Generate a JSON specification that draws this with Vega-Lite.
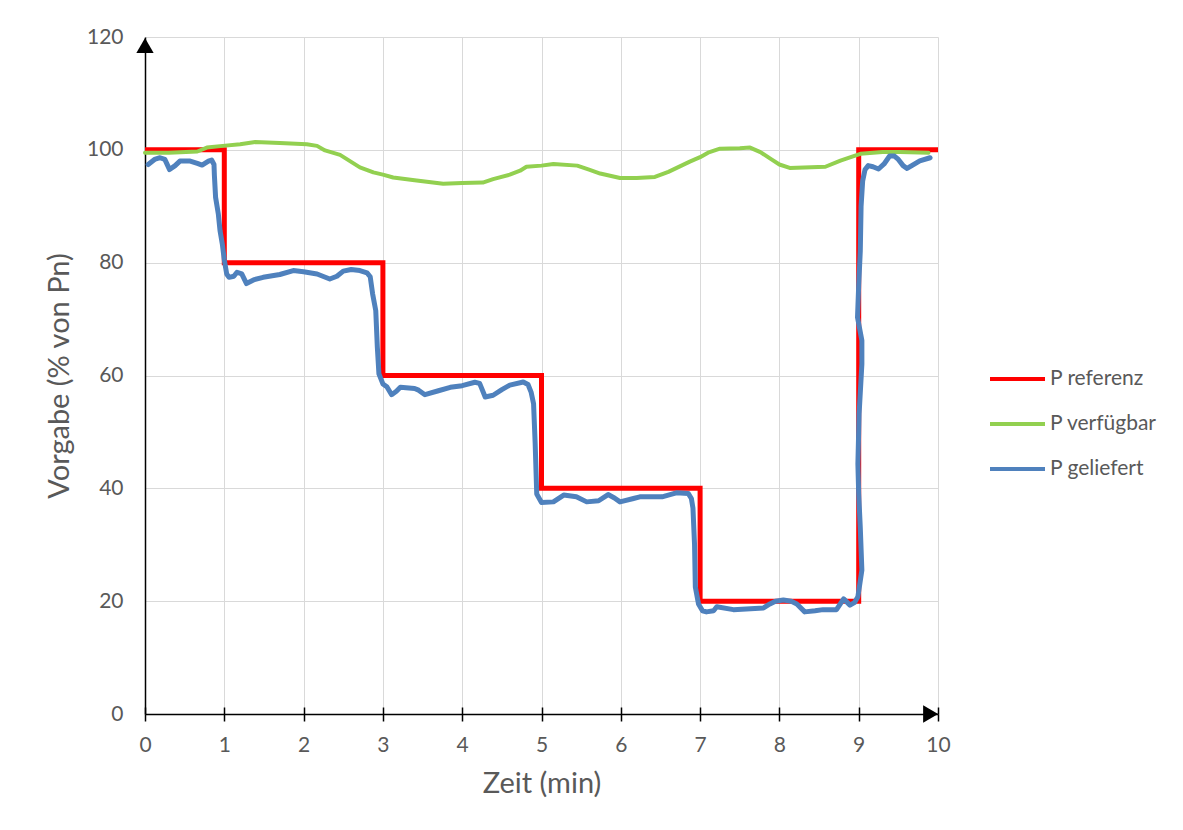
{
  "$schema": "https://vega.github.io/schema/vega-lite/v6.json",
  "width": 793,
  "height": 677,
  "autosize": "none",
  "padding": {"left": 145, "top": 37, "right": 245, "bottom": 116},
  "background": "white",
  "config": {"view": {"stroke": null}, "font": "Lato"},
  "datasets": {
    "ref": [
      {"t": 0, "v": 100, "s": "P referenz"},
      {"t": 1, "v": 80, "s": "P referenz"},
      {"t": 3, "v": 60, "s": "P referenz"},
      {"t": 5, "v": 40, "s": "P referenz"},
      {"t": 7, "v": 20, "s": "P referenz"},
      {"t": 9, "v": 100, "s": "P referenz"},
      {"t": 10, "v": 100, "s": "P referenz"}
    ],
    "avail": [
      {"t": 0, "v": 99.5, "s": "P verfügbar"},
      {"t": 0.3, "v": 99.5, "s": "P verfügbar"},
      {"t": 0.66, "v": 99.7, "s": "P verfügbar"},
      {"t": 0.78, "v": 100.4, "s": "P verfügbar"},
      {"t": 0.98, "v": 100.7, "s": "P verfügbar"},
      {"t": 1.2, "v": 101.0, "s": "P verfügbar"},
      {"t": 1.39, "v": 101.4, "s": "P verfügbar"},
      {"t": 1.7, "v": 101.2, "s": "P verfügbar"},
      {"t": 2.04, "v": 101.0, "s": "P verfügbar"},
      {"t": 2.17, "v": 100.7, "s": "P verfügbar"},
      {"t": 2.27, "v": 99.9, "s": "P verfügbar"},
      {"t": 2.46, "v": 99.1, "s": "P verfügbar"},
      {"t": 2.71, "v": 96.9, "s": "P verfügbar"},
      {"t": 2.88, "v": 96.0, "s": "P verfügbar"},
      {"t": 3.0, "v": 95.6, "s": "P verfügbar"},
      {"t": 3.13, "v": 95.1, "s": "P verfügbar"},
      {"t": 3.4, "v": 94.6, "s": "P verfügbar"},
      {"t": 3.76, "v": 94.0, "s": "P verfügbar"},
      {"t": 4.0, "v": 94.1, "s": "P verfügbar"},
      {"t": 4.26, "v": 94.2, "s": "P verfügbar"},
      {"t": 4.39, "v": 94.8, "s": "P verfügbar"},
      {"t": 4.6, "v": 95.6, "s": "P verfügbar"},
      {"t": 4.73, "v": 96.3, "s": "P verfügbar"},
      {"t": 4.81, "v": 97.0, "s": "P verfügbar"},
      {"t": 5.0, "v": 97.2, "s": "P verfügbar"},
      {"t": 5.15, "v": 97.5, "s": "P verfügbar"},
      {"t": 5.45, "v": 97.2, "s": "P verfügbar"},
      {"t": 5.6, "v": 96.5, "s": "P verfügbar"},
      {"t": 5.74, "v": 95.8, "s": "P verfügbar"},
      {"t": 5.99, "v": 95.0, "s": "P verfügbar"},
      {"t": 6.2, "v": 95.0, "s": "P verfügbar"},
      {"t": 6.43, "v": 95.2, "s": "P verfügbar"},
      {"t": 6.6, "v": 96.1, "s": "P verfügbar"},
      {"t": 6.87, "v": 97.9, "s": "P verfügbar"},
      {"t": 7.0, "v": 98.7, "s": "P verfügbar"},
      {"t": 7.1, "v": 99.5, "s": "P verfügbar"},
      {"t": 7.25, "v": 100.2, "s": "P verfügbar"},
      {"t": 7.5, "v": 100.3, "s": "P verfügbar"},
      {"t": 7.63, "v": 100.4, "s": "P verfügbar"},
      {"t": 7.76, "v": 99.6, "s": "P verfügbar"},
      {"t": 7.9, "v": 98.3, "s": "P verfügbar"},
      {"t": 8.0, "v": 97.4, "s": "P verfügbar"},
      {"t": 8.13, "v": 96.8, "s": "P verfügbar"},
      {"t": 8.4, "v": 96.9, "s": "P verfügbar"},
      {"t": 8.58, "v": 97.0, "s": "P verfügbar"},
      {"t": 8.77, "v": 98.1, "s": "P verfügbar"},
      {"t": 9.02, "v": 99.3, "s": "P verfügbar"},
      {"t": 9.3, "v": 99.6, "s": "P verfügbar"},
      {"t": 9.52, "v": 99.6, "s": "P verfügbar"},
      {"t": 9.88, "v": 99.5, "s": "P verfügbar"}
    ],
    "deliv": [
      {"t": 0.04, "v": 97.4, "s": "P geliefert"},
      {"t": 0.12, "v": 98.3, "s": "P geliefert"},
      {"t": 0.19, "v": 98.6, "s": "P geliefert"},
      {"t": 0.25, "v": 98.3, "s": "P geliefert"},
      {"t": 0.31, "v": 96.5, "s": "P geliefert"},
      {"t": 0.38, "v": 97.2, "s": "P geliefert"},
      {"t": 0.44, "v": 98.0, "s": "P geliefert"},
      {"t": 0.57, "v": 98.0, "s": "P geliefert"},
      {"t": 0.66, "v": 97.6, "s": "P geliefert"},
      {"t": 0.72, "v": 97.3, "s": "P geliefert"},
      {"t": 0.8, "v": 98.0, "s": "P geliefert"},
      {"t": 0.84, "v": 98.2, "s": "P geliefert"},
      {"t": 0.87, "v": 97.4, "s": "P geliefert"},
      {"t": 0.875, "v": 95.5, "s": "P geliefert"},
      {"t": 0.89, "v": 91.6, "s": "P geliefert"},
      {"t": 0.925, "v": 88.6, "s": "P geliefert"},
      {"t": 0.946, "v": 85.7, "s": "P geliefert"},
      {"t": 0.975, "v": 83.3, "s": "P geliefert"},
      {"t": 1.0, "v": 80.5, "s": "P geliefert"},
      {"t": 1.03, "v": 78.0, "s": "P geliefert"},
      {"t": 1.06, "v": 77.4, "s": "P geliefert"},
      {"t": 1.12, "v": 77.6, "s": "P geliefert"},
      {"t": 1.16, "v": 78.3, "s": "P geliefert"},
      {"t": 1.22, "v": 78.0, "s": "P geliefert"},
      {"t": 1.28, "v": 76.3, "s": "P geliefert"},
      {"t": 1.38, "v": 77.0, "s": "P geliefert"},
      {"t": 1.49, "v": 77.4, "s": "P geliefert"},
      {"t": 1.7, "v": 77.9, "s": "P geliefert"},
      {"t": 1.87, "v": 78.6, "s": "P geliefert"},
      {"t": 2.0, "v": 78.4, "s": "P geliefert"},
      {"t": 2.17, "v": 78.0, "s": "P geliefert"},
      {"t": 2.33, "v": 77.1, "s": "P geliefert"},
      {"t": 2.42, "v": 77.6, "s": "P geliefert"},
      {"t": 2.5, "v": 78.5, "s": "P geliefert"},
      {"t": 2.6, "v": 78.8, "s": "P geliefert"},
      {"t": 2.71, "v": 78.6, "s": "P geliefert"},
      {"t": 2.8, "v": 78.2, "s": "P geliefert"},
      {"t": 2.84, "v": 77.5, "s": "P geliefert"},
      {"t": 2.87, "v": 74.5, "s": "P geliefert"},
      {"t": 2.91, "v": 71.5, "s": "P geliefert"},
      {"t": 2.93, "v": 65.0, "s": "P geliefert"},
      {"t": 2.95, "v": 60.3, "s": "P geliefert"},
      {"t": 3.0, "v": 58.5, "s": "P geliefert"},
      {"t": 3.05, "v": 58.0, "s": "P geliefert"},
      {"t": 3.11, "v": 56.6, "s": "P geliefert"},
      {"t": 3.17, "v": 57.2, "s": "P geliefert"},
      {"t": 3.22, "v": 57.9, "s": "P geliefert"},
      {"t": 3.4, "v": 57.7, "s": "P geliefert"},
      {"t": 3.45, "v": 57.4, "s": "P geliefert"},
      {"t": 3.53, "v": 56.6, "s": "P geliefert"},
      {"t": 3.7, "v": 57.3, "s": "P geliefert"},
      {"t": 3.85, "v": 57.9, "s": "P geliefert"},
      {"t": 4.0, "v": 58.2, "s": "P geliefert"},
      {"t": 4.16, "v": 58.8, "s": "P geliefert"},
      {"t": 4.22, "v": 58.6, "s": "P geliefert"},
      {"t": 4.29, "v": 56.2, "s": "P geliefert"},
      {"t": 4.39, "v": 56.5, "s": "P geliefert"},
      {"t": 4.5, "v": 57.5, "s": "P geliefert"},
      {"t": 4.6, "v": 58.3, "s": "P geliefert"},
      {"t": 4.77, "v": 58.85, "s": "P geliefert"},
      {"t": 4.83, "v": 58.4, "s": "P geliefert"},
      {"t": 4.87, "v": 57.0, "s": "P geliefert"},
      {"t": 4.9, "v": 55.0, "s": "P geliefert"},
      {"t": 4.92, "v": 48.0, "s": "P geliefert"},
      {"t": 4.94, "v": 39.0, "s": "P geliefert"},
      {"t": 5.0, "v": 37.5, "s": "P geliefert"},
      {"t": 5.15, "v": 37.6, "s": "P geliefert"},
      {"t": 5.28, "v": 38.8, "s": "P geliefert"},
      {"t": 5.44, "v": 38.5, "s": "P geliefert"},
      {"t": 5.57, "v": 37.6, "s": "P geliefert"},
      {"t": 5.72, "v": 37.8, "s": "P geliefert"},
      {"t": 5.84, "v": 38.9, "s": "P geliefert"},
      {"t": 5.92, "v": 38.3, "s": "P geliefert"},
      {"t": 5.99, "v": 37.6, "s": "P geliefert"},
      {"t": 6.16, "v": 38.2, "s": "P geliefert"},
      {"t": 6.24, "v": 38.5, "s": "P geliefert"},
      {"t": 6.52, "v": 38.5, "s": "P geliefert"},
      {"t": 6.7, "v": 39.2, "s": "P geliefert"},
      {"t": 6.85, "v": 39.1, "s": "P geliefert"},
      {"t": 6.89, "v": 38.2, "s": "P geliefert"},
      {"t": 6.91, "v": 36.5, "s": "P geliefert"},
      {"t": 6.93, "v": 30.0, "s": "P geliefert"},
      {"t": 6.94, "v": 22.5, "s": "P geliefert"},
      {"t": 6.98, "v": 19.5, "s": "P geliefert"},
      {"t": 7.03, "v": 18.3, "s": "P geliefert"},
      {"t": 7.08, "v": 18.1, "s": "P geliefert"},
      {"t": 7.17, "v": 18.3, "s": "P geliefert"},
      {"t": 7.21, "v": 19.0, "s": "P geliefert"},
      {"t": 7.42, "v": 18.5, "s": "P geliefert"},
      {"t": 7.8, "v": 18.8, "s": "P geliefert"},
      {"t": 7.88, "v": 19.5, "s": "P geliefert"},
      {"t": 7.95, "v": 20.0, "s": "P geliefert"},
      {"t": 8.05, "v": 20.2, "s": "P geliefert"},
      {"t": 8.15, "v": 20.0, "s": "P geliefert"},
      {"t": 8.22, "v": 19.5, "s": "P geliefert"},
      {"t": 8.32, "v": 18.1, "s": "P geliefert"},
      {"t": 8.45, "v": 18.3, "s": "P geliefert"},
      {"t": 8.55, "v": 18.5, "s": "P geliefert"},
      {"t": 8.72, "v": 18.5, "s": "P geliefert"},
      {"t": 8.81, "v": 20.4, "s": "P geliefert"},
      {"t": 8.89, "v": 19.3, "s": "P geliefert"},
      {"t": 8.95, "v": 19.8, "s": "P geliefert"},
      {"t": 8.99, "v": 20.8, "s": "P geliefert"},
      {"t": 9.04, "v": 25.5, "s": "P geliefert"},
      {"t": 9.02, "v": 33.0, "s": "P geliefert"},
      {"t": 9.0, "v": 39.0, "s": "P geliefert"},
      {"t": 8.99, "v": 44.3, "s": "P geliefert"},
      {"t": 9.005, "v": 53.2, "s": "P geliefert"},
      {"t": 9.04, "v": 62.0, "s": "P geliefert"},
      {"t": 9.04, "v": 66.2, "s": "P geliefert"},
      {"t": 8.985, "v": 70.3, "s": "P geliefert"},
      {"t": 9.0, "v": 76.0, "s": "P geliefert"},
      {"t": 9.02, "v": 82.1, "s": "P geliefert"},
      {"t": 9.03, "v": 90.0, "s": "P geliefert"},
      {"t": 9.05, "v": 94.5, "s": "P geliefert"},
      {"t": 9.08, "v": 96.5, "s": "P geliefert"},
      {"t": 9.12, "v": 97.2, "s": "P geliefert"},
      {"t": 9.18, "v": 97.0, "s": "P geliefert"},
      {"t": 9.25, "v": 96.6, "s": "P geliefert"},
      {"t": 9.32, "v": 97.5, "s": "P geliefert"},
      {"t": 9.39, "v": 98.9, "s": "P geliefert"},
      {"t": 9.45, "v": 98.9, "s": "P geliefert"},
      {"t": 9.5, "v": 98.3, "s": "P geliefert"},
      {"t": 9.56, "v": 97.2, "s": "P geliefert"},
      {"t": 9.61, "v": 96.7, "s": "P geliefert"},
      {"t": 9.68, "v": 97.3, "s": "P geliefert"},
      {"t": 9.77, "v": 98.05, "s": "P geliefert"},
      {"t": 9.9, "v": 98.6, "s": "P geliefert"}
    ]
  },
  "resolve": {"axis": {"x": "independent"}},
  "layer": [
    {
      "data": {"name": "ref"},
      "mark": {"type": "line", "interpolate": "step-after", "strokeWidth": 5, "strokeJoin": "miter"},
      "encoding": {
        "x": {
          "field": "t", "type": "quantitative",
          "scale": {"domain": [0, 10], "nice": false, "zero": false},
          "axis": {
            "orient": "bottom",
            "values": [0, 1, 2, 3, 4, 5, 6, 7, 8, 9, 10],
            "format": "d",
            "grid": true, "gridColor": "#d9d9d9", "gridWidth": 1,
            "domainColor": "black", "domainWidth": 1.5,
            "tickColor": "black", "tickWidth": 1.5, "tickSize": 7,
            "labelFlush": false, "labelOverlap": false,
            "labelFont": "Lato", "labelFontSize": 21, "labelColor": "#595959", "labelPadding": 13,
            "title": "Zeit (min)", "titleFont": "Lato", "titleFontSize": 29, "titleFontWeight": "normal",
            "titleColor": "#595959", "titlePadding": 14
          }
        },
        "y": {
          "field": "v", "type": "quantitative",
          "scale": {"domain": [0, 120], "nice": false},
          "axis": {
            "values": [0, 20, 40, 60, 80, 100, 120],
            "grid": true, "gridColor": "#d9d9d9", "gridWidth": 1,
            "domainColor": "black", "domainWidth": 1.5,
            "ticks": false,
            "labelFlush": false,
            "labelFont": "Lato", "labelFontSize": 21, "labelColor": "#595959", "labelPadding": 22,
            "title": "Vorgabe (% von Pn)", "titleFont": "Lato", "titleFontSize": 29, "titleFontWeight": "normal",
            "titleColor": "#595959", "titlePadding": 12
          }
        },
        "color": {
          "field": "s", "type": "nominal",
          "scale": {"domain": ["P referenz", "P verfügbar", "P geliefert"], "range": ["#FF0000", "#92D050", "#4F81BD"]},
          "legend": {
            "orient": "none", "legendX": 843, "legendY": 327,
            "title": null, "padding": 0,
            "symbolType": "stroke", "symbolSize": 3025, "symbolStrokeWidth": 4,
            "clipHeight": 30, "rowPadding": 15,
            "labelFont": "Lato", "labelFontSize": 21, "labelColor": "#595959", "labelOffset": 3
          }
        }
      }
    },
    {
      "data": {"name": "avail"},
      "mark": {"type": "line", "strokeWidth": 4, "strokeJoin": "round", "strokeCap": "round"},
      "encoding": {
        "x": {"field": "t", "type": "quantitative", "axis": null},
        "y": {"field": "v", "type": "quantitative"},
        "color": {"field": "s", "type": "nominal"}
      }
    },
    {
      "data": {"name": "deliv"},
      "mark": {"type": "line", "strokeWidth": 5, "strokeJoin": "round", "strokeCap": "round"},
      "encoding": {
        "x": {"field": "t", "type": "quantitative", "axis": null},
        "y": {"field": "v", "type": "quantitative"},
        "color": {"field": "s", "type": "nominal"},
        "order": {"value": null}
      }
    },
    {
      "data": {"values": [{"arrow": "y"}]},
      "mark": {"type": "point", "shape": "triangle-up", "filled": true, "color": "black", "size": 300, "opacity": 1},
      "encoding": {
        "x": {
          "datum": 0, "type": "quantitative",
          "axis": {
            "orient": "bottom",
            "values": [0, 1, 2, 3, 4, 5, 6, 7, 8, 9, 10],
            "grid": false, "domain": false, "labels": false, "title": null,
            "tickColor": "black", "tickWidth": 1.5, "tickSize": -7
          }
        },
        "y": {"datum": 118.5, "type": "quantitative"}
      }
    },
    {
      "data": {"values": [{"arrow": "x"}]},
      "mark": {"type": "point", "shape": "triangle-right", "filled": true, "color": "black", "size": 300, "opacity": 1},
      "encoding": {
        "x": {"datum": 9.907, "type": "quantitative", "axis": null},
        "y": {"datum": 0, "type": "quantitative"}
      }
    }
  ]
}
